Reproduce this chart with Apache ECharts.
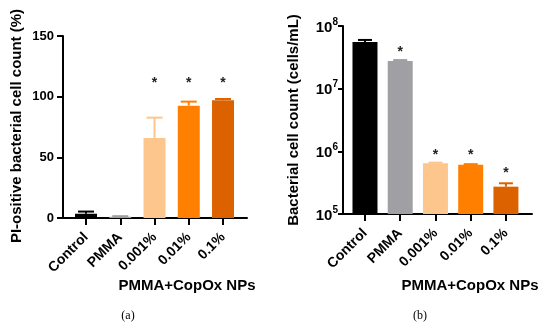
<!DOCTYPE html>
<html><head><meta charset="utf-8">
<script src="https://cdn.jsdelivr.net/npm/echarts@6/dist/echarts.min.js"></script>
<style>html,body{margin:0;padding:0;background:#fff}#c{width:550px;height:328px}</style>
</head><body><div id="c"></div>
<script>
// ---- data ----
var categories = ['Control', 'PMMA', '0.001%', '0.01%', '0.1%'];
var barColors = ['#000000', '#a0a0a4', '#fdc68c', '#ff8000', '#dc6200'];
// (a) PI-positive bacterial cell count (%)
var piMean = [3.5, 1, 66, 92.6, 97];
var piErrTop = [5.3, 1.5, 82.7, 95.9, 98.1];
var piStars = [null, null, 111, 111, 111];
var piTicks = [0, 50, 100, 150];
// (b) Bacterial cell count (cells/mL)
var countMean = [5.56e7, 2.76e7, 6.43e5, 6.1e5, 2.73e5];
var countErrTop = [5.99e7, 2.86e7, 6.6e5, 6.25e5, 3.09e5];
var countStars = [null, 3.85e7, 8.8e5, 8.8e5, 4.5e5];
var logTicks = [1e5, 1e6, 1e7, 1e8];

// layout: category slot positions on a value x axis (gap before first slot, span of axis)
var lead = [0.672, 0.624];
var span = [5.372, 5.364];

function xs(ax, i) { return i + lead[ax]; }

function barSeries(ax, vals, w) {
  return {
    type: 'bar', xAxisIndex: ax, yAxisIndex: ax, barWidth: w,
    data: vals.map(function (v, i) { return { value: [xs(ax, i), v], itemStyle: { color: barColors[i] } }; }),
    silent: true, animation: false, z: 2
  };
}
function errSeries(ax, means, tops, cap) {
  return {
    type: 'custom', xAxisIndex: ax, yAxisIndex: ax, animation: false, silent: true, z: 3,
    data: means.map(function (m, i) { return [xs(ax, i), m]; }),
    renderItem: function (params, api) {
      var i = params.dataIndex;
      var p0 = api.coord([xs(ax, i), means[i]]);
      var p1 = api.coord([xs(ax, i), tops[i]]);
      var st = { stroke: barColors[i], lineWidth: 2 };
      return { type: 'group', children: [
        { type: 'line', shape: { x1: p0[0], y1: p0[1], x2: p1[0], y2: p1[1] }, style: st },
        { type: 'line', shape: { x1: p1[0] - cap / 2, y1: p1[1], x2: p1[0] + cap / 2, y2: p1[1] }, style: st }
      ]};
    }
  };
}
function starSeries(ax, stars) {
  var pts = [];
  stars.forEach(function (s, i) { if (s != null) pts.push([xs(ax, i), s]); });
  return {
    type: 'custom', xAxisIndex: ax, yAxisIndex: ax, animation: false, silent: true, z: 4,
    data: pts,
    renderItem: function (params, api) {
      var p = api.coord(pts[params.dataIndex]);
      return { type: 'text', x: p[0], y: p[1], style: { text: '*', fill: '#222', font: 'bold 14px "Liberation Sans", Arial', align: 'center', verticalAlign: 'middle' } };
    }
  };
}
// vertical axis spine along x = 0 of each panel, from its lowest to its highest tick
function spineSeries(ax, ticks) {
  var lo = ticks[0], hi = ticks[ticks.length - 1];
  return {
    type: 'custom', xAxisIndex: ax, yAxisIndex: ax, animation: false, silent: true, z: 10, clip: false,
    data: [[0, lo]],
    renderItem: function (params, api) {
      var a = api.coord([0, lo]);
      var b = api.coord([0, hi]);
      return { type: 'line', z2: 100, shape: { x1: a[0], y1: a[1] + 1, x2: b[0], y2: b[1] }, style: { stroke: '#000', lineWidth: 2 } };
    }
  };
}
function xAx(ax) {
  var tv = categories.map(function (_, i) { return xs(ax, i); });
  return {
    type: 'value', gridIndex: ax, min: 0, max: span[ax],
    axisLine: { show: true, lineStyle: { color: '#000', width: 2 } },
    axisTick: { show: true, length: 7, lineStyle: { color: '#000', width: 2 }, customValues: tv },
    axisLabel: { customValues: tv, rotate: 45, margin: 17, color: '#000', fontWeight: 'bold', fontSize: 14, fontFamily: '"Liberation Sans", Arial',
      formatter: function (v) { return categories[Math.round(v - lead[ax])]; } },
    splitLine: { show: false }
  };
}

var chart = echarts.init(document.getElementById('c'), null, { renderer: 'canvas' });
chart.setOption({
  backgroundColor: '#fff',
  animation: false,
  grid: [
    { left: 63, top: 36, width: 184, height: 182 },
    { left: 343, top: 26, width: 189, height: 188 }
  ],
  xAxis: [xAx(0), xAx(1)],
  yAxis: [
    { type: 'value', gridIndex: 0, min: 0, max: 150, interval: 50,
      axisLine: { show: true, lineStyle: { color: '#000', width: 2 } },
      axisTick: { show: true, length: 6, lineStyle: { color: '#000', width: 2 } },
      axisLabel: { color: '#000', fontWeight: 'bold', fontSize: 13, margin: 9, fontFamily: '"Liberation Sans", Arial',
        formatter: function (v) { return piTicks.indexOf(v) >= 0 ? String(v) : ''; } },
      splitLine: { show: false } },
    { type: 'log', gridIndex: 1, logBase: 10, min: logTicks[0], max: logTicks[logTicks.length - 1],
      axisLine: { show: true, lineStyle: { color: '#000', width: 2 } },
      axisTick: { show: true, length: 5, lineStyle: { color: '#000', width: 2 } },
      minorTick: { show: false },
      axisLabel: { color: '#000', margin: 5, fontFamily: '"Liberation Sans", Arial',
        formatter: function (v) { return '{b|10}{s|' + Math.round(Math.log(v) / Math.LN10) + '}'; },
        rich: {
          b: { fontSize: 15, fontWeight: 'bold', color: '#000', lineHeight: 18, verticalAlign: 'bottom' },
          s: { fontSize: 10, fontWeight: 'bold', color: '#000', verticalAlign: 'top', lineHeight: 18 }
        } },
      splitLine: { show: false } }
  ],
  series: [
    barSeries(0, piMean, 22), errSeries(0, piMean, piErrTop, 16), starSeries(0, piStars), spineSeries(0, piTicks),
    barSeries(1, countMean, 25), errSeries(1, countMean, countErrTop, 14), starSeries(1, countStars), spineSeries(1, logTicks)
  ],
  graphic: [
    { type: 'text', x: 17, y: 126, rotation: Math.PI / 2, style: { text: 'PI-ositive bacterial cell count (%)', font: 'bold 15px "Liberation Sans", Arial', fill: '#000', align: 'center', verticalAlign: 'middle' } },
    { type: 'text', x: 294, y: 120, rotation: Math.PI / 2, style: { text: 'Bacterial cell count (cells/mL)', font: 'bold 15px "Liberation Sans", Arial', fill: '#000', align: 'center', verticalAlign: 'middle' } },
    { type: 'text', x: 187, y: 286, style: { text: 'PMMA+CopOx NPs', font: 'bold 15px "Liberation Sans", Arial', fill: '#000', align: 'center', verticalAlign: 'middle' } },
    { type: 'text', x: 470, y: 286, style: { text: 'PMMA+CopOx NPs', font: 'bold 15px "Liberation Sans", Arial', fill: '#000', align: 'center', verticalAlign: 'middle' } },
    { type: 'text', x: 128, y: 316, style: { text: '(a)', font: '12px "Liberation Serif", "Times New Roman", serif', fill: '#000', align: 'center', verticalAlign: 'middle' } },
    { type: 'text', x: 420, y: 316, style: { text: '(b)', font: '12px "Liberation Serif", "Times New Roman", serif', fill: '#000', align: 'center', verticalAlign: 'middle' } }
  ]
});
</script></body></html>
